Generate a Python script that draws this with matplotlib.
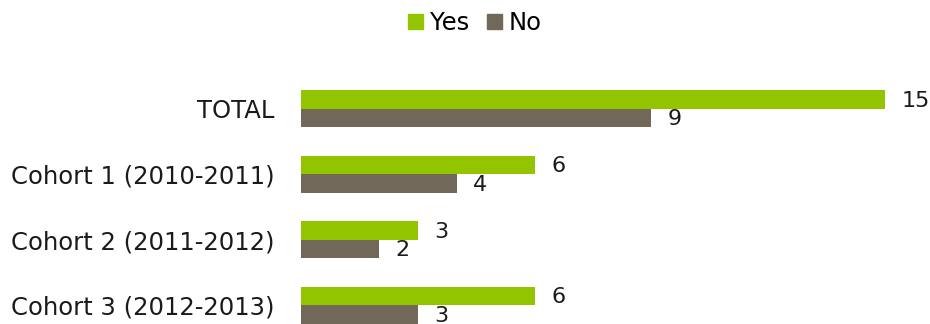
import matplotlib
matplotlib.use("Agg")
import matplotlib.pyplot as plt
import numpy as np
from matplotlib.patches import Patch

plt.rcParams["font.family"] = ["DejaVu Sans"]

categories = ["TOTAL", "Cohort 1 (2010-2011)", "Cohort 2 (2011-2012)", "Cohort 3 (2012-2013)"]
yes_counts = [15, 6, 3, 6]
no_counts = [9, 4, 2, 3]

YES_COLOR = "#92C400"
NO_COLOR = "#72685A"
TEXT_COLOR = "#1A1A1A"
FS = 17.5
VALUE_FS = 16

fig = plt.figure(figsize=(9.3, 3.24), dpi=100)
# the last group runs past the bottom edge, so the axes extends below the figure
ax = fig.add_axes([301 / 930, 1 - 338 / 324, 623 / 930, 262 / 324])

y = np.arange(len(categories))
h = 0.285
ax.barh(y - h / 2, yes_counts, height=h, color=YES_COLOR)
ax.barh(y + h / 2, no_counts, height=h, color=NO_COLOR)

for yi, v in zip(y, yes_counts):
    ax.annotate(str(v), (v, yi - h / 2), xytext=(12, -1), textcoords="offset points",
                va="center", ha="left", fontsize=VALUE_FS, color=TEXT_COLOR)
for yi, v in zip(y, no_counts):
    ax.annotate(str(v), (v, yi + h / 2), xytext=(12, -1), textcoords="offset points",
                va="center", ha="left", fontsize=VALUE_FS, color=TEXT_COLOR)

ax.set_xlim(0, 16)
ax.set_ylim(3.5, -0.5)
ax.set_yticks(y)
ax.set_yticklabels(categories, fontsize=FS, color=TEXT_COLOR)
ax.tick_params(axis="y", length=0, pad=19)
ax.set_xticks([])
for side in ax.spines.values():
    side.set_visible(False)

handles = [Patch(color=YES_COLOR, label="Yes"), Patch(color=NO_COLOR, label="No")]
fig.legend(handles=handles, loc="center", bbox_to_anchor=(475 / 930, 1 - 23 / 324), ncol=2,
           frameon=False, fontsize=FS, handlelength=0.62, handleheight=0.62,
           handletextpad=0.3, columnspacing=0.7, borderpad=0)

fig.savefig("out.png", dpi=100)
